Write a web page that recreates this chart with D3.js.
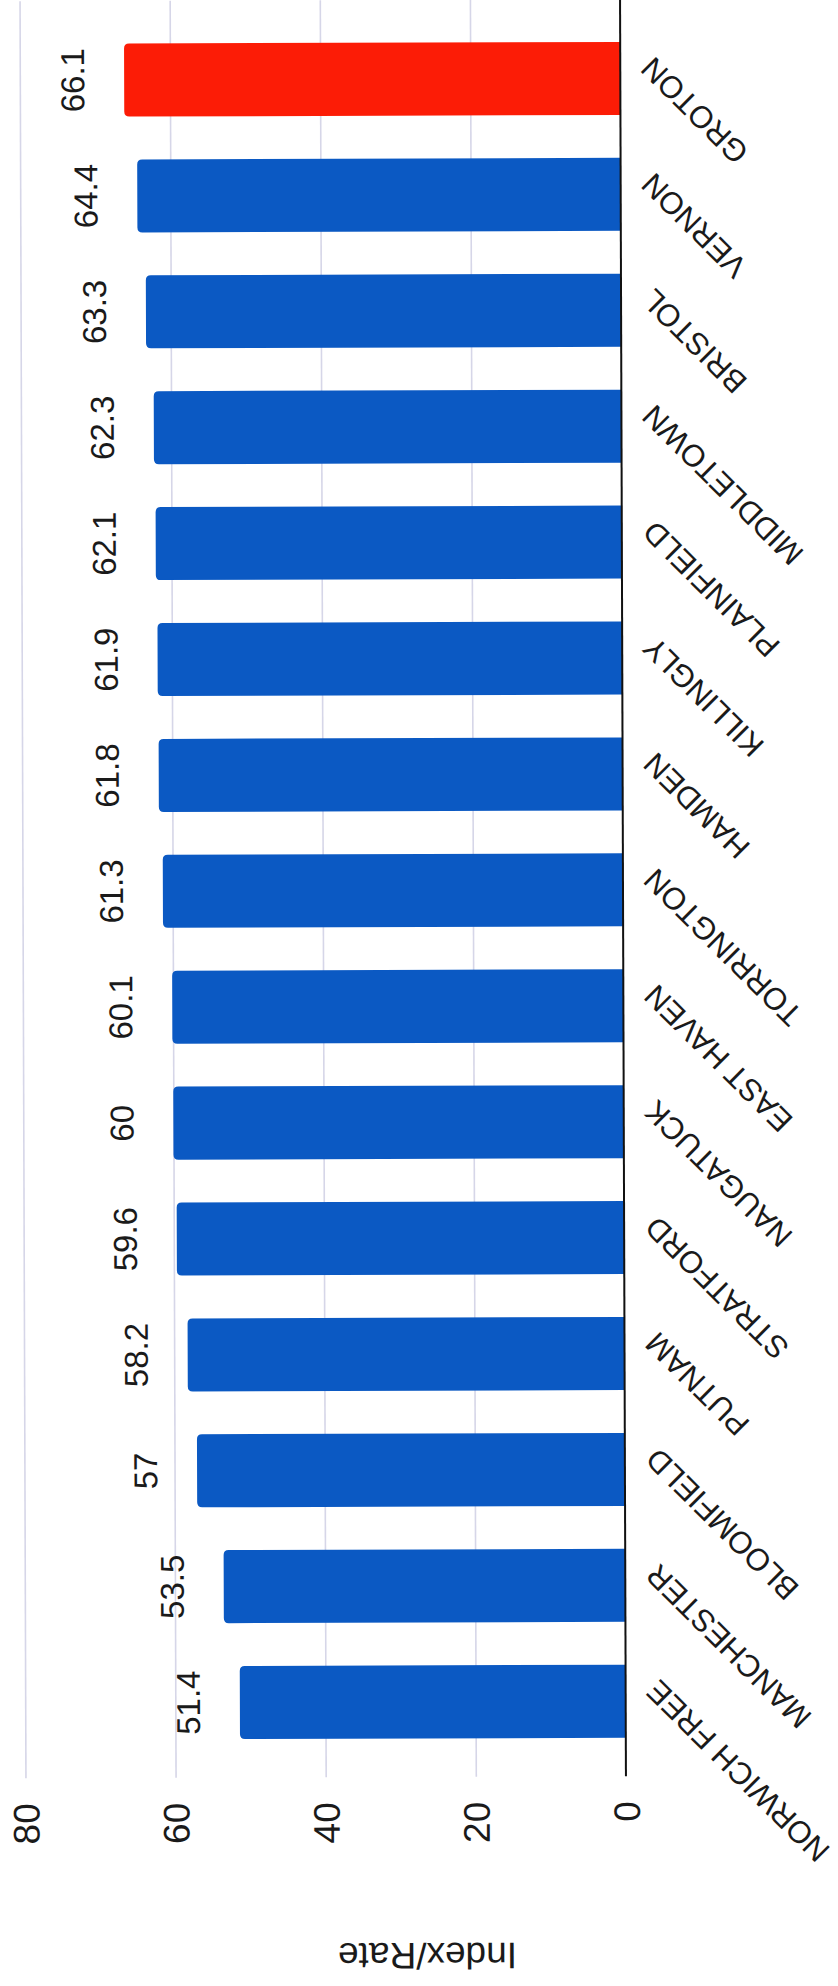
<!DOCTYPE html>
<html>
<head>
<meta charset="utf-8">
<script src="https://cdn.jsdelivr.net/npm/d3@7"></script>
<style>
  html, body { margin: 0; padding: 0; background: #ffffff; }
  svg { display: block; }
  text { font-family: "Liberation Sans", Arial, Helvetica, sans-serif; fill: #1a1a1a; }
</style>
</head>
<body>
<script>
// ---- data ----
const categories = ["NORWICH FREE", "MANCHESTER", "BLOOMFIELD", "PUTNAM", "STRATFORD",
  "NAUGATUCK", "EAST HAVEN", "TORRINGTON", "HAMDEN", "KILLINGLY", "PLAINFIELD",
  "MIDDLETOWN", "BRISTOL", "VERNON", "GROTON"];
const values = [51.4, 53.5, 57, 58.2, 59.6, 60, 60.1, 61.3, 61.8, 61.9, 62.1, 62.3, 63.3, 64.4, 66.1];
const highlighted = ["GROTON"];
const valueTicks = [0, 20, 40, 60, 80];
const valueTitle = "Index/Rate";

// ---- layout ----
const W = 838, H = 1986;
const baseX = 623, maxX = 22.5;
const plotTop = 2, plotBottom = 1779;
const gridTop = 0, gridBottom = 1777;

const svg = d3.select("body").append("svg")
  .attr("width", W).attr("height", H);
svg.append("rect").attr("width", W).attr("height", H).attr("fill", "#fff");

// slight scan tilt
const g = svg.append("g").attr("transform", "rotate(-0.19, 420, 890)");

const data = categories.map((c, i) => ({ cat: c, val: values[i] }));

const x = d3.scaleLinear().domain([0, 80]).range([baseX, maxX]);
const y = d3.scaleBand().domain(categories).range([plotBottom, plotTop])
  .paddingInner(0.37).paddingOuter(0.35);

// value axis with gridlines
const xAxis = d3.axisBottom(x).tickValues(valueTicks).tickSize(-(gridBottom - gridTop)).tickFormat(d3.format("d"));
const xg = g.append("g").attr("transform", `translate(0,${gridBottom})`).call(xAxis);
xg.select(".domain").remove();
xg.selectAll(".tick line").attr("stroke", "#d6d6e8").attr("stroke-width", 1.6);
xg.selectAll(".tick").filter(d => d === 0).select("line").attr("stroke", "none");
xg.selectAll(".tick text")
  .attr("transform", "rotate(-90)")
  .attr("x", -25).attr("y", 0).attr("dy", "0.36em")
  .attr("text-anchor", "end")
  .style("font-size", "37px")
  .attr("fill", "#1a1a1a");

// bars
const r = 5;
function barPath(d) {
  const x0 = x(d.val), x1 = x(0);
  const y0 = y(d.cat), y1 = y0 + y.bandwidth();
  return `M${x1},${y0} L${x0 + r},${y0} Q${x0},${y0} ${x0},${y0 + r} L${x0},${y1 - r} Q${x0},${y1} ${x0 + r},${y1} L${x1},${y1} Z`;
}
g.append("g").selectAll("path").data(data).join("path")
  .attr("d", barPath)
  .attr("fill", d => highlighted.includes(d.cat) ? "#fc1c06" : "#0b59c3");

// value labels
g.append("g").selectAll("text").data(data).join("text")
  .attr("transform", d => `translate(${x(d.val) - 40},${y(d.cat) + y.bandwidth() / 2}) rotate(-90)`)
  .attr("text-anchor", "middle")
  .style("font-size", "33px")
  .text(d => String(d.val));

// category axis
const yAxis = d3.axisRight(y).tickSize(0).tickSizeOuter(0);
const yg = g.append("g").attr("transform", `translate(${baseX},0)`).call(yAxis);
yg.select(".domain").remove();
yg.selectAll(".tick text")
  .attr("x", 0).attr("y", 0).attr("dy", 0).attr("dx", 0)
  .attr("transform", "translate(34,-23) rotate(-135)")
  .attr("text-anchor", "end")
  .style("font-size", "31px")
  .attr("fill", "#1a1a1a");

// baseline
g.append("line")
  .attr("x1", x(0)).attr("x2", x(0))
  .attr("y1", gridTop).attr("y2", gridBottom)
  .attr("stroke", "#111").attr("stroke-width", 2);

// value axis title (upside down)
g.append("text")
  .attr("transform", "translate(424,1943) rotate(180)")
  .attr("text-anchor", "middle")
  .style("font-size", "37px")
  .text(valueTitle);
</script>
</body>
</html>
